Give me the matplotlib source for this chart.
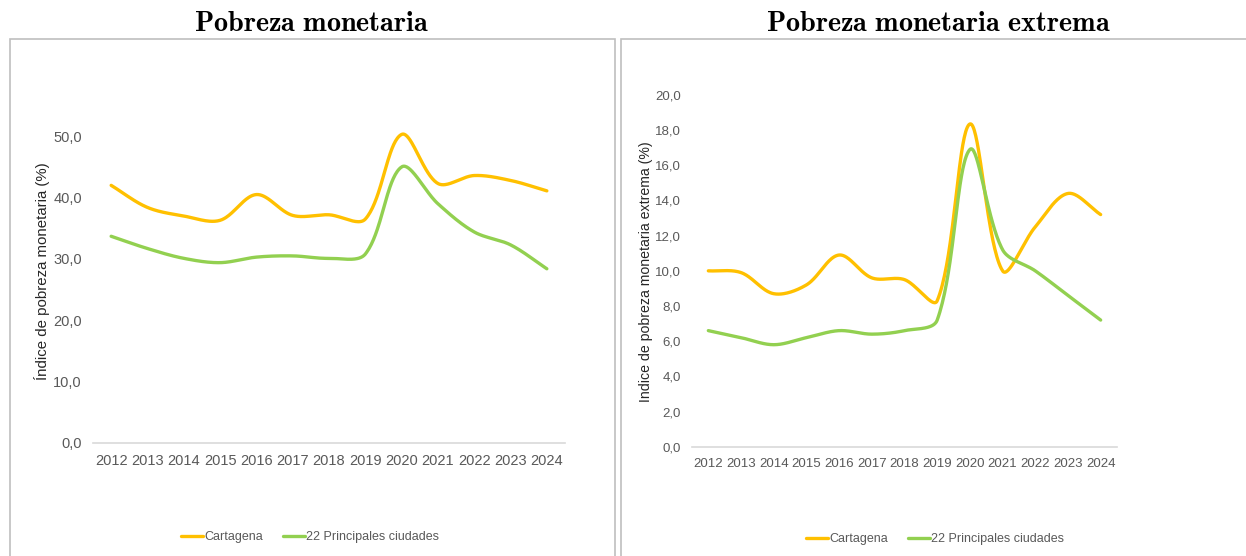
import numpy as np
import matplotlib
matplotlib.use("Agg")
import matplotlib.pyplot as plt
from matplotlib.patches import Rectangle

plt.rcParams['mathtext.fontset'] = 'cm'

# datos
years = [2012, 2013, 2014, 2015, 2016, 2017, 2018, 2019, 2020, 2021, 2022, 2023, 2024]
year_labels = [str(y) for y in years]
cartagena_pm = [42.0, 38.4, 37.0, 36.3, 40.5, 37.1, 37.2, 36.5, 50.3, 42.3, 43.6, 42.8, 41.1]
ciudades_pm = [33.7, 31.7, 30.1, 29.4, 30.3, 30.5, 30.1, 30.8, 45.0, 39.0, 34.4, 32.3, 28.4]
cartagena_pme = [10.0, 9.9, 8.7, 9.2, 10.9, 9.6, 9.5, 8.3, 18.35, 10.0, 12.5, 14.4, 13.2]
ciudades_pme = [6.6, 6.2, 5.8, 6.2, 6.6, 6.4, 6.6, 7.2, 16.9, 11.2, 10.0, 8.6, 7.2]
yticks_pm = [0, 10, 20, 30, 40, 50]
yticks_pme = [0, 2, 4, 6, 8, 10, 12, 14, 16, 18, 20]

ORANGE = "#FFC000"
GREEN = "#92D050"
GREY_TXT = "#595959"
SANS = ['Liberation Sans', 'DejaVu Sans']


def suavizar(x, y, sx, sy, n=40):
    """curva suavizada tipo Excel: bezier con tangentes escaladas por la longitud de los tramos (en pixeles)"""
    P = np.column_stack([np.asarray(x, float) * sx, np.asarray(y, float) * sy])
    m = len(P)
    ctrl_in, ctrl_out = [None] * m, [None] * m
    for i in range(m):
        a = P[max(i - 1, 0)]
        b = P[min(i + 1, m - 1)]
        d = b - a
        l1 = np.linalg.norm(P[i] - a)
        l2 = np.linalg.norm(b - P[i])
        tot = l1 + l2 if l1 + l2 > 0 else 1
        ctrl_in[i] = P[i] - d * (l1 / tot) / 3
        ctrl_out[i] = P[i] + d * (l2 / tot) / 3
    t = np.linspace(0, 1, n)[:, None]
    pts = []
    for i in range(m - 1):
        p0, c1, c2, p3 = P[i], ctrl_out[i], ctrl_in[i + 1], P[i + 1]
        b = (1 - t) ** 3 * p0 + 3 * (1 - t) ** 2 * t * c1 + 3 * (1 - t) * t ** 2 * c2 + t ** 3 * p3
        pts.append(b)
    pts = np.vstack(pts)
    return pts[:, 0] / sx, pts[:, 1] / sy


W, H = 1246, 556
fig = plt.figure(figsize=(W / 100, H / 100), dpi=100)


def px_axes(x0, x1, y_bottom, y_top):
    return fig.add_axes([x0 / W, 1 - y_bottom / H, (x1 - x0) / W, (y_bottom - y_top) / H])


# marcos de los paneles
for x0, x1 in [(9.5, 614.5), (620.5, 1250)]:
    fig.patches.append(Rectangle((x0 / W, -0.05), (x1 - x0) / W, 1.05 - 39.5 / H,
                                 transform=fig.transFigure, fill=False,
                                 edgecolor="#bfbfbf", linewidth=1.2))


def panel(ax, c1, c2, yticks, ylim, ylabel, tick_fs, label_fs):
    x_idx = np.arange(len(years))
    ax.set_xlim(-0.5, len(years) - 0.5)
    ax.set_ylim(*ylim)
    bb = ax.get_position()
    sx = bb.width * W / len(years)
    sy = bb.height * H / (ylim[1] - ylim[0])
    for vals, col in [(c1, ORANGE), (c2, GREEN)]:
        xs, ys = suavizar(x_idx, vals, sx, sy)
        ax.plot(xs, ys, color=col, linewidth=2.4, solid_capstyle="round", clip_on=False)
    ax.set_xticks(x_idx)
    ax.set_xticklabels(year_labels, family=SANS, fontsize=tick_fs, color=GREY_TXT)
    ax.set_yticks(yticks)
    ax.set_yticklabels([f"{v:.1f}".replace(".", ",") for v in yticks],
                       family=SANS, fontsize=tick_fs, color=GREY_TXT)
    ax.tick_params(length=0, pad=8)
    for s in ["top", "right", "left"]:
        ax.spines[s].set_visible(False)
    ax.spines["bottom"].set_color("#d9d9d9")
    ax.spines["bottom"].set_linewidth(1.2)
    ax.set_ylabel(ylabel, fontsize=label_fs, color="#262626", family=SANS)


# panel izquierdo
ax1 = px_axes(93, 565, 443, 124)
panel(ax1, cartagena_pm, ciudades_pm, yticks_pm, (0, 52.0),
      "Índice de pobreza monetaria (%)", 10.5, 10.8)
ax1.yaxis.set_label_coords((50 - 93) / 472, 0.54)

# panel derecho
ax2 = px_axes(692, 1117, 446.7, 89.7)
panel(ax2, cartagena_pme, ciudades_pme, yticks_pme, (0, 20.3),
      "Indice de pobreza monetaria extrema (%)", 9.5, 10.2)
ax2.yaxis.set_label_coords((653 - 692) / 425, 0.49)

# titulos
fig.text(312 / W, 1 - 23 / H, r"$\mathbf{Pobreza\ monetaria}$", ha="center", va="center", fontsize=20.3)
fig.text(938 / W, 1 - 23 / H, r"$\mathbf{Pobreza\ monetaria\ extrema}$", ha="center", va="center", fontsize=20.3)

# leyendas
for ax, cx, cy in [(ax1, 310, 537), (ax2, 935, 539)]:
    h = ax.get_lines()
    fig.legend(h, ["Cartagena", "22 Principales ciudades"], loc="center",
               bbox_to_anchor=(cx / W, 1 - cy / H), ncol=2, frameon=False,
               prop={'family': SANS, 'size': 9}, labelcolor=GREY_TXT,
               handlelength=1.75, handletextpad=0.1, columnspacing=1.6)

fig.savefig("out.png", dpi=100)
